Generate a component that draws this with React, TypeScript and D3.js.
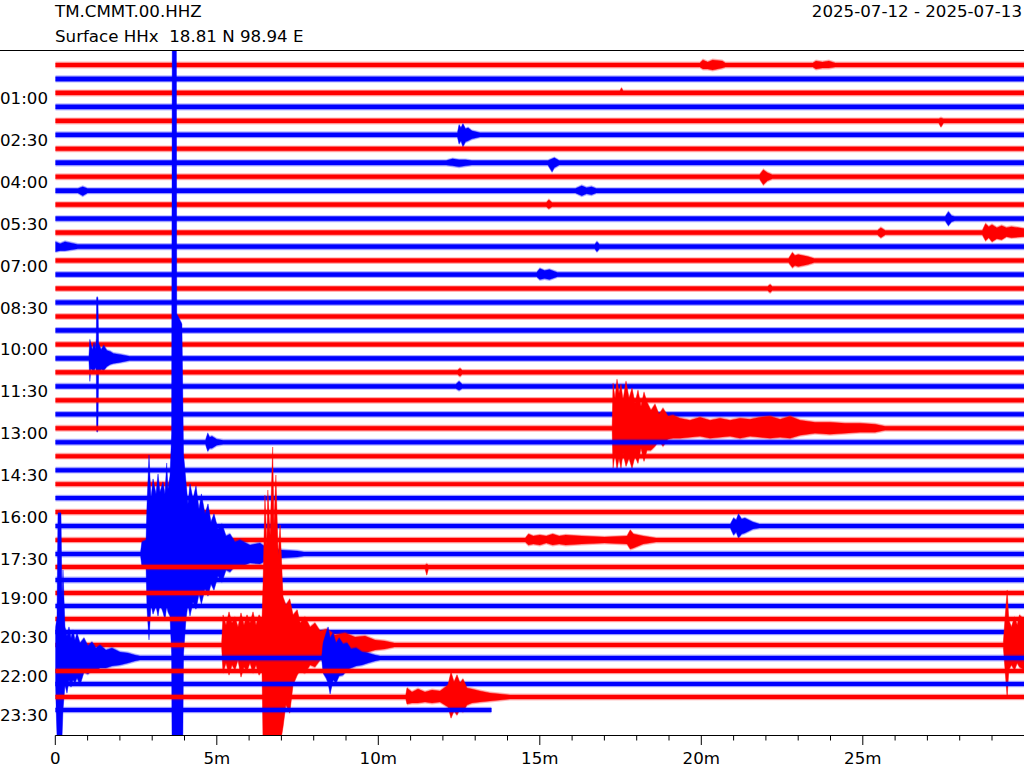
import React, { useMemo } from "react";
import * as d3 from "d3";

// ---------- header texts ----------
const stationCode = "TM.CMMT.00.HHZ";
const stationInfo = "Surface HHx  18.81 N 98.94 E";
const dateRange = "2025-07-12 - 2025-07-13";

// ---------- rows (one per 30 minutes) ----------
const rowCount = 48;
const rowMinutes = 30;
const lastRowEndMinute = 13.5;
const rowColors = ["#ff0000", "#0000ff"];

// background noise half-amplitude of each row
const noiseAmp = [
  2.1, 2.2, 2.1, 2.2, 2.1, 2.1, 2.0, 2.2, 2.1, 2.2, 2.1, 2.1,
  2.1, 2.2, 2.0, 2.1, 2.0, 2.1, 2.0, 2.1, 2.0, 2.1, 2.0, 2.1,
  2.0, 2.0, 2.0, 2.0, 2.0, 2.0, 1.9, 2.0, 2.0, 2.0, 1.9, 2.0,
  1.9, 2.0, 1.9, 1.9, 1.9, 1.9, 1.9, 2.0, 1.9, 1.9, 1.9, 1.9,
];

// ---------- axis ticks ----------
const yTickRows = [2, 5, 8, 11, 14, 17, 20, 23, 26, 29, 32, 35, 38, 41, 44, 47];
const yTickLabels = [
  "01:00", "02:30", "04:00", "05:30", "07:00", "08:30", "10:00", "11:30",
  "13:00", "14:30", "16:00", "17:30", "19:00", "20:30", "22:00", "23:30",
];
const xMajorTicks = [0, 5, 10, 15, 20, 25];
const xMajorLabels = ["0", "5m", "10m", "15m", "20m", "25m"];

// ---------- events: envelope keys [minute, up amplitude, down amplitude] ----------
type Key = [number, number, number];
const ev00a: Key[] = [[19.95, 2, 2], [20.05, 5, 4], [20.2, 3, 4], [20.35, 5, 5], [20.65, 4, 3], [20.75, 2, 2]];
const ev00b: Key[] = [[23.45, 2, 2], [23.55, 4, 4], [23.75, 3, 3], [23.95, 4, 3], [24.15, 2, 2]];
const ev02: Key[] = [[17.48, 2, 2], [17.53, 5, 2], [17.58, 2, 2]];
const ev04: Key[] = [[27.35, 2, 2], [27.42, 3, 6], [27.5, 2, 2]];
const ev05: Key[] = [[12.45, 2, 2], [12.5, 10, 9], [12.56, 7, 6], [12.62, 11, 12], [12.7, 6, 7], [12.78, 7, 6], [12.9, 4, 4], [13.15, 2, 2]];
const ev07a: Key[] = [[12.1, 2, 2], [12.3, 4, 3], [12.5, 3, 4], [12.7, 3, 3], [12.9, 2, 2]];
const ev07b: Key[] = [[15.25, 2, 2], [15.38, 4, 9], [15.45, 5, 5], [15.6, 2, 2]];
const ev08: Key[] = [[21.8, 2, 2], [21.92, 7, 8], [22.05, 4, 4], [22.2, 2, 2]];
const ev09a: Key[] = [[0.7, 2, 2], [0.85, 4, 5], [1.0, 2, 2]];
const ev09b: Key[] = [[16.1, 2, 2], [16.3, 5, 5], [16.45, 3, 3], [16.6, 4, 4], [16.75, 2, 2]];
const ev10: Key[] = [[15.2, 2, 2], [15.28, 5, 4], [15.38, 2, 2]];
const ev11: Key[] = [[27.55, 2, 2], [27.65, 7, 7], [27.75, 3, 3], [27.85, 2, 2]];
const ev12a: Key[] = [[25.45, 2, 2], [25.56, 5, 5], [25.7, 2, 2]];
const ev12b: Key[] = [[28.7, 2, 2], [28.8, 9, 8], [28.9, 6, 5], [29.0, 8, 9], [29.15, 5, 6], [29.3, 7, 7], [29.45, 5, 4], [29.6, 6, 5], [30, 4, 4]];
const ev13a: Key[] = [[0, 5, 5], [0.15, 3, 4], [0.3, 5, 4], [0.7, 2, 2]];
const ev13b: Key[] = [[16.7, 2, 2], [16.77, 5, 5], [16.85, 2, 2]];
const ev14: Key[] = [[22.7, 2, 2], [22.82, 8, 7], [22.9, 5, 5], [23.0, 6, 6], [23.3, 4, 4], [23.5, 2, 2]];
const ev15: Key[] = [[14.9, 2, 2], [15.0, 6, 5], [15.15, 4, 4], [15.3, 5, 5], [15.55, 2, 2]];
const ev16: Key[] = [[22.05, 2, 2], [22.13, 4, 4], [22.2, 2, 2]];
const ev21: Key[] = [
  [1.04, 2, 2], [1.07, 19, 23], [1.1, 14, 10], [1.15, 9, 12], [1.2, 16, 13], [1.24, 10, 9],
  [1.27, 20, 12], [1.28, 61, 73], [1.32, 61, 73], [1.34, 15, 14], [1.42, 9, 11], [1.5, 13, 12],
  [1.6, 8, 8], [1.7, 7, 6], [1.8, 5, 5], [2.0, 4, 4], [2.3, 2, 2],
];
const ev22: Key[] = [[12.45, 2, 2], [12.53, 4, 4], [12.6, 2, 2]];
const ev23: Key[] = [[12.4, 2, 2], [12.5, 5, 4], [12.6, 2, 2]];
const ev26: Key[] = [
  [17.24, 2, 2], [17.267, 45, 40], [17.33, 30, 25], [17.39, 49, 41], [17.452, 35, 30],
  [17.514, 44, 40], [17.576, 28, 25], [17.669, 47, 38], [17.762, 30, 30], [17.855, 40, 40],
  [17.948, 25, 28], [18.04, 38, 35], [18.133, 22, 20], [18.226, 36, 33], [18.319, 26, 22],
  [18.443, 18, 22], [18.567, 24, 18], [18.691, 14, 12], [18.814, 20, 18], [18.969, 12, 11],
  [19.124, 13, 10], [19.341, 10, 10], [19.65, 8, 9], [19.96, 11, 8], [20.27, 8, 10],
  [20.58, 10, 9], [20.89, 8, 8], [21.2, 10, 10], [21.51, 9, 8], [21.82, 11, 9], [22.13, 12, 10],
  [22.44, 9, 9], [22.75, 12, 10], [23.06, 8, 7], [23.52, 6, 5], [23.98, 6, 6], [24.45, 5, 5],
  [24.91, 5, 4], [25.38, 4, 4], [25.69, 2, 2],
];
const ev27: Key[] = [[4.65, 2, 2], [4.72, 9, 9], [4.78, 5, 6], [4.85, 6, 6], [5.0, 3, 3], [5.2, 2, 2]];
const ev33: Key[] = [[20.9, 2, 2], [21.0, 8, 9], [21.08, 6, 6], [21.15, 12, 12], [21.25, 7, 8], [21.35, 8, 7], [21.6, 4, 3], [21.8, 2, 2]];
const ev34: Key[] = [
  [14.55, 2, 2], [14.65, 6, 5], [14.8, 4, 4], [15.0, 5, 5], [15.2, 4, 3], [15.4, 6, 5],
  [15.6, 4, 4], [15.8, 5, 5], [16.3, 4, 4], [17.0, 3, 3], [17.7, 4, 4], [17.8, 10, 9],
  [17.9, 6, 8], [18.2, 4, 4], [18.6, 2, 2],
];
const ev35: Key[] = [
  [2.64, 2, 2], [2.68, 12, 12], [2.81, 14, 14], [2.839, 50, 55], [2.901, 99, 86], [2.963, 55, 50],
  [3.025, 75, 60], [3.118, 60, 52], [3.18, 80, 62], [3.241, 62, 50], [3.334, 72, 58],
  [3.396, 60, 66], [3.449, 91, 52], [3.489, 65, 58], [3.551, 78, 62], [3.601, 120, 100],
  [3.63, 700, 300], [3.74, 700, 300], [3.76, 240, 300], [3.92, 230, 300], [3.97, 100, 100],
  [4.046, 72, 65], [4.108, 50, 50], [4.17, 70, 62], [4.263, 55, 48], [4.356, 68, 55],
  [4.449, 45, 40], [4.523, 60, 50], [4.635, 40, 35], [4.728, 50, 42], [4.82, 32, 30],
  [4.913, 40, 36], [5.037, 25, 22], [5.161, 30, 28], [5.285, 18, 16], [5.409, 20, 18],
  [5.563, 12, 12], [5.718, 14, 13], [6.028, 9, 9], [6.337, 11, 10], [6.554, 6, 6],
  [7.0, 4, 4], [7.5, 3, 3], [7.7, 2, 2],
];
const ev36: Key[] = [[11.45, 2, 2], [11.5, 3, 8], [11.55, 2, 2]];
const ev42a: Key[] = [
  [5.15, 2, 2], [5.192, 30, 28], [5.285, 20, 18], [5.378, 33, 30], [5.471, 22, 20],
  [5.563, 28, 25], [5.656, 18, 15], [5.749, 32, 32], [5.842, 20, 22], [5.935, 30, 26],
  [6.028, 22, 18], [6.121, 33, 28], [6.214, 20, 20], [6.307, 30, 30], [6.399, 25, 25],
  [6.43, 60, 95], [6.49, 150, 100], [6.55, 100, 100], [6.58, 155, 100], [6.65, 110, 100],
  [6.73, 198, 100], [6.77, 120, 100], [6.83, 170, 100], [6.9, 90, 100], [6.96, 120, 100],
  [7.05, 48, 82], [7.14, 40, 60], [7.26, 46, 68], [7.36, 30, 40], [7.49, 35, 30],
  [7.58, 22, 25], [7.73, 28, 28], [7.89, 18, 20], [8.04, 22, 22], [8.2, 14, 15],
  [8.41, 16, 15], [8.66, 10, 11], [8.97, 12, 12], [9.28, 8, 8], [9.59, 9, 8],
  [9.9, 5, 5], [10.2, 4, 4], [10.5, 2, 2],
];
const ev42b: Key[] = [
  [29.35, 2, 2], [29.4, 25, 23], [29.47, 55, 53], [29.52, 25, 25], [29.6, 18, 20],
  [29.7, 28, 25], [29.78, 20, 18], [29.85, 30, 22], [30, 25, 25],
];
const ev43a: Key[] = [
  [0, 30, 25], [0.052, 40, 77], [0.083, 145, 80], [0.176, 145, 80], [0.207, 60, 80],
  [0.238, 88, 52], [0.3, 31, 27], [0.362, 22, 35], [0.424, 31, 22], [0.486, 20, 29],
  [0.548, 28, 22], [0.61, 18, 25], [0.672, 25, 20], [0.765, 15, 27], [0.889, 20, 14],
  [1.012, 12, 16], [1.136, 16, 12], [1.26, 10, 13], [1.384, 13, 10], [1.57, 8, 10],
  [1.755, 10, 8], [2.003, 6, 7], [2.251, 5, 5], [2.467, 3, 3], [2.622, 2, 2],
];
const ev43b: Key[] = [
  [8.25, 2, 2], [8.291, 15, 15], [8.384, 25, 20], [8.446, 31, 25], [8.508, 20, 36],
  [8.6, 25, 22], [8.693, 15, 25], [8.786, 20, 18], [8.91, 14, 17], [9.034, 15, 12],
  [9.158, 9, 10], [9.313, 10, 8], [9.498, 6, 7], [9.684, 5, 5], [9.901, 3, 3], [10.056, 2, 2],
];
const ev46: Key[] = [
  [10.85, 2, 2], [10.889, 9, 7], [11.043, 5, 6], [11.229, 8, 6], [11.446, 5, 5],
  [11.663, 7, 6], [11.91, 6, 5], [12.158, 12, 10], [12.251, 25, 21], [12.344, 15, 14],
  [12.437, 22, 18], [12.53, 14, 12], [12.622, 18, 15], [12.746, 9, 8], [12.9, 8, 6],
  [13.148, 6, 5], [13.458, 4, 4], [13.768, 3, 3], [14.077, 2, 2],
];

const eventRows: [number, Key[]][] = [
  [0, ev00a], [0, ev00b], [2, ev02], [4, ev04], [5, ev05], [7, ev07a], [7, ev07b], [8, ev08],
  [9, ev09a], [9, ev09b], [10, ev10], [11, ev11], [12, ev12a], [12, ev12b], [13, ev13a],
  [13, ev13b], [14, ev14], [15, ev15], [16, ev16], [21, ev21], [22, ev22], [23, ev23],
  [26, ev26], [27, ev27], [33, ev33], [34, ev34], [35, ev35], [36, ev36], [42, ev42a],
  [42, ev42b], [43, ev43a], [43, ev43b], [46, ev46],
];

const FONT = "'DejaVu Sans', sans-serif";
const FS = 16.67;

function rowKeys(i: number): Key[] {
  const end = i === rowCount - 1 ? lastRowEndMinute : rowMinutes;
  const base = noiseAmp[i];
  let pts: Key[] = [];
  eventRows
    .filter((e) => e[0] === i)
    .forEach((e) =>
      e[1].forEach((k) => pts.push([k[0], Math.max(base, k[1]), Math.max(base, k[2])]))
    );
  pts = pts.filter((p) => p[0] >= 0 && p[0] <= end).sort((a, b) => a[0] - b[0]);
  if (!pts.length || pts[0][0] > 0) pts.unshift([0, base, base]);
  if (pts[pts.length - 1][0] < end) pts.push([end, base, base]);
  return pts;
}

export default function App() {
  const left = 55.3;
  const right = 1024.3;
  const top = 50;
  const bottom = 735;
  const halo = 1.4;

  const x = d3.scaleLinear().domain([0, rowMinutes]).range([left, right]);
  const rowY = d3.scaleLinear().domain([0, 35, 47]).range([65, 554, 710]);
  const amp = d3.scaleLinear().domain([0, 100]).range([0, 100]);

  const rows = useMemo(() => {
    return d3.range(rowCount).map((i) => {
      const yc = rowY(i);
      const keys = rowKeys(i);
      const mk = (extra: number) =>
        d3
          .area<Key>()
          .x((d) => x(d[0]))
          .y0((d) => yc + amp(d[2]) + extra)
          .y1((d) => yc - amp(d[1]) - extra)(keys) || "";
      return { i, core: mk(0), outer: mk(halo), color: rowColors[i % 2] };
    });
  }, []);

  const minorTicks = d3.range(0, rowMinutes).filter((m) => m % 5 !== 0);

  return (
    <svg
      width={1024}
      height={768}
      style={{ position: "absolute", left: 0, top: 0, background: "#fff" }}
      fontFamily={FONT}
    >
      <defs>
        <clipPath id="plotClip">
          <rect x={left} y={top} width={right - left} height={bottom - top} />
        </clipPath>
      </defs>
      <rect x={0} y={0} width={1024} height={768} fill="#fff" />

      <text x={55} y={16.7} fontSize={FS} fill="#000">{stationCode}</text>
      <text x={55} y={41.5} fontSize={FS} fill="#000" style={{ whiteSpace: "pre" }} xmlSpace="preserve">
        {stationInfo}
      </text>
      <text x={1022} y={16.7} fontSize={FS} fill="#000" textAnchor="end">{dateRange}</text>

      <g clipPath="url(#plotClip)">
        {rows.map((r) => (
          <g key={r.i}>
            <path d={r.outer} fill={r.color} fillOpacity={0.28} stroke="none" />
            <path d={r.core} fill={r.color} stroke={r.color} strokeWidth={0.4} strokeLinejoin="round" />
          </g>
        ))}
      </g>

      <line x1={0} x2={1024} y1={50.5} y2={50.5} stroke="#000" strokeWidth={1} />
      <line x1={left} x2={1024} y1={735.5} y2={735.5} stroke="#000" strokeWidth={1} />

      {xMajorTicks.map((m, k) => (
        <g key={m}>
          <line x1={x(m)} x2={x(m)} y1={735.5} y2={745} stroke="#000" strokeWidth={1} />
          <text x={x(m)} y={764} fontSize={FS} textAnchor="middle" fill="#000">{xMajorLabels[k]}</text>
        </g>
      ))}
      {minorTicks.map((m) => (
        <line key={m} x1={x(m)} x2={x(m)} y1={735.5} y2={740.5} stroke="#000" strokeWidth={1} />
      ))}

      {yTickRows.map((r, k) => (
        <text key={r} x={48} y={rowY(r) + 11} fontSize={FS} textAnchor="end" fill="#000">
          {yTickLabels[k]}
        </text>
      ))}
    </svg>
  );
}
